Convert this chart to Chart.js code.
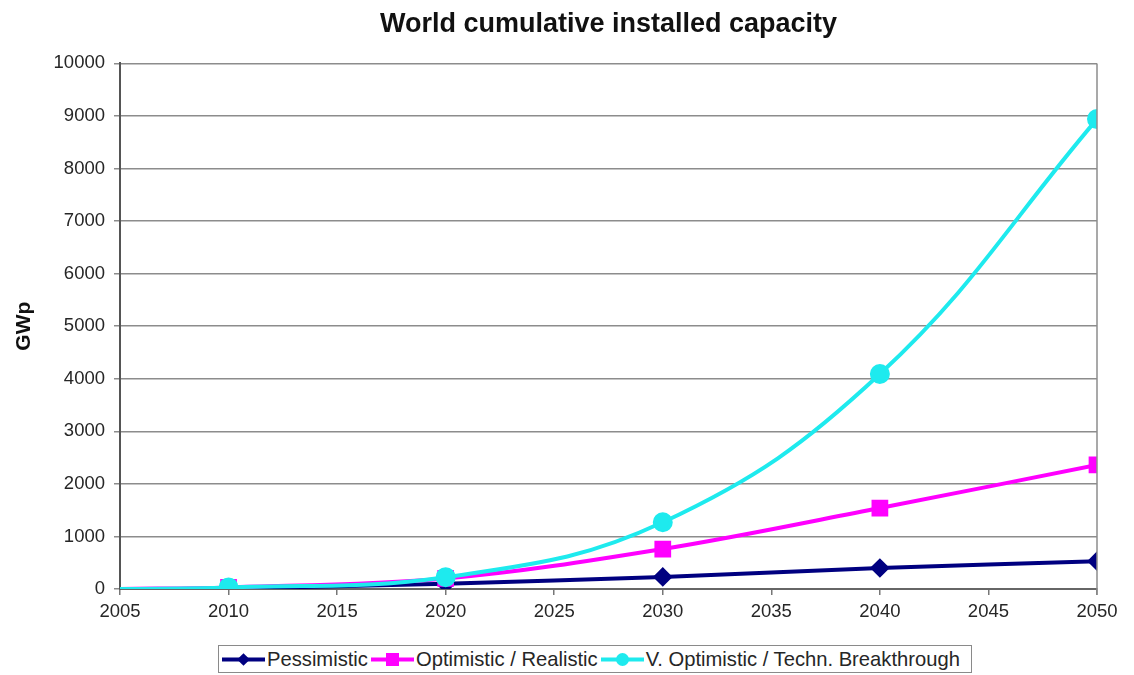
<!DOCTYPE html>
<html>
<head>
<meta charset="utf-8">
<script src="https://cdn.jsdelivr.net/npm/chart.js@4"></script>
<style>
  html, body { margin: 0; padding: 0; background: #fff; }
  #wrap { position: relative; width: 1134px; height: 675px; }
  #legend {
    position: absolute; left: 218px; top: 645px; width: 754px; height: 28px;
    border: 1px solid #8a8a8a; box-sizing: border-box; background: #fff;
    display: flex; align-items: center; padding-left: 3px;
    font-family: "Liberation Sans", Arial, sans-serif; font-size: 20.2px; color: #262626;
  }
  #legend .item { display: flex; align-items: center; margin-right: 3px; white-space: nowrap; }
  #legend svg { margin-right: 2px; }
</style>
</head>
<body>
<div id="wrap">
  <canvas id="chartcanvas" width="1134" height="675"></canvas>
  <div id="legend"></div>
</div>
<script>
const years = [2005, 2010, 2020, 2030, 2040, 2050];
const pessimistic = [0, 10, 100, 230, 400, 530];
const optimistic = [0, 30, 200, 760, 1540, 2360];
const veryOptimistic = [0, 30, 225, 1270, 4090, 8940];
const seriesNames = ['Pessimistic', 'Optimistic / Realistic', 'V. Optimistic / Techn. Breakthrough'];
const seriesColors = ['#000080', '#ff00ff', '#1eeaee'];

const font = '"Liberation Sans", Arial, sans-serif';
const ctx = document.getElementById('chartcanvas').getContext('2d');

function toPoints(values) {
  return years.map((x, i) => ({x: x, y: values[i]}));
}
// no marker on the 2005 start point
const markerSize = (r) => years.map((y, i) => i === 0 ? 0 : r);

// right edge of the plot frame
const frameRight = {
  id: 'frameRight',
  afterDraw(chart) {
    const a = chart.chartArea, c = chart.ctx;
    c.save();
    c.strokeStyle = '#8c8c8c';
    c.lineWidth = 1.5;
    c.beginPath();
    c.moveTo(a.right, a.top);
    c.lineTo(a.right, a.bottom + 6);
    c.stroke();
    c.restore();
  }
};

const chart = new Chart(ctx, {
  type: 'line',
  data: {
    datasets: [{
      label: seriesNames[0],
      data: toPoints(pessimistic),
      borderColor: seriesColors[0],
      backgroundColor: seriesColors[0],
      borderWidth: 4,
      pointStyle: 'rectRot',
      pointRadius: markerSize(7),
      tension: 0.3,
      order: 2
    }, {
      label: seriesNames[1],
      data: toPoints(optimistic),
      borderColor: seriesColors[1],
      backgroundColor: seriesColors[1],
      borderWidth: 4,
      pointStyle: 'rect',
      pointRadius: markerSize(9),
      tension: 0.35,
      order: 1
    }, {
      label: seriesNames[2],
      data: toPoints(veryOptimistic),
      borderColor: seriesColors[2],
      backgroundColor: seriesColors[2],
      borderWidth: 4,
      pointStyle: 'circle',
      pointRadius: markerSize(8),
      tension: 0.4,
      order: 0
    }]
  },
  options: {
    responsive: false,
    animation: false,
    layout: { padding: { left: 0, right: 37, top: 6, bottom: 0 } },
    scales: {
      x: {
        type: 'linear',
        min: 2005,
        max: 2050,
        ticks: {
          stepSize: 5,
          color: '#262626',
          padding: 6,
          font: { family: font, size: 18.5 },
          callback: (v) => String(v)
        },
        grid: { drawOnChartArea: false, drawTicks: true, tickLength: 6, color: '#777', lineWidth: 1.5 },
        border: { color: '#666', width: 2 },
        afterFit(scale) { scale.height = 86; }
      },
      y: {
        min: 0,
        max: 10000,
        ticks: {
          stepSize: 1000,
          color: '#262626',
          padding: 9,
          font: { family: font, size: 18.5 },
          callback: (v) => String(v)
        },
        grid: { color: '#8c8c8c', lineWidth: 1.5, tickLength: 6 },
        border: { color: '#555', width: 2 },
        title: {
          display: true,
          text: 'GWp',
          color: '#111',
          font: { family: font, size: 21, weight: 'bold' },
          padding: { top: 12, bottom: 10 }
        },
        afterFit(scale) { scale.width = 120; }
      }
    },
    plugins: {
      legend: { display: false },
      tooltip: { enabled: false },
      title: {
        display: true,
        fullSize: false,
        text: 'World cumulative installed capacity',
        color: '#111',
        font: { family: font, size: 27, weight: 'bold' },
        padding: { top: 2, bottom: 23 }
      }
    }
  },
  plugins: [frameRight]
});

// legend box below the axis, each entry a line with its marker
const markerSvg = {
  rectRot: (c) => `<rect x="17" y="5" width="9" height="9" fill="${c}" transform="rotate(45 21.5 9.5)"/>`,
  rect: (c) => `<rect x="15" y="3" width="13" height="13" fill="${c}"/>`,
  circle: (c) => `<circle cx="21.5" cy="9.5" r="6.5" fill="${c}"/>`
};
const legendEl = document.getElementById('legend');
chart.data.datasets.forEach((ds) => {
  const item = document.createElement('span');
  item.className = 'item';
  item.innerHTML =
    `<svg width="43" height="19"><line x1="0" y1="9.5" x2="43" y2="9.5" stroke="${ds.borderColor}" stroke-width="4"/>` +
    markerSvg[ds.pointStyle](ds.borderColor) + `</svg><span>${ds.label}</span>`;
  legendEl.appendChild(item);
});
</script>
</body>
</html>
